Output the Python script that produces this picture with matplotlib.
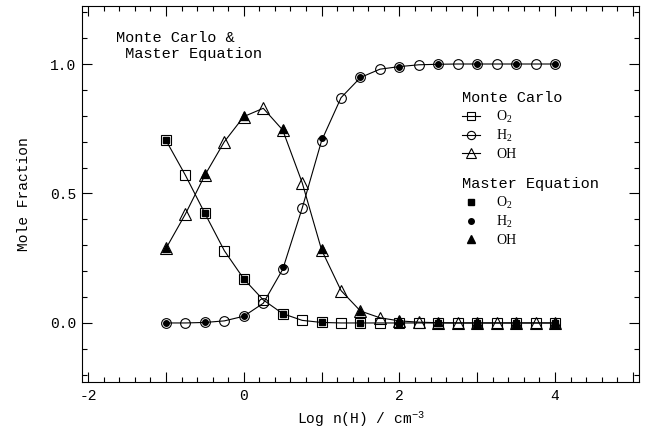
import matplotlib
matplotlib.use("Agg")
import matplotlib.pyplot as plt
from matplotlib.ticker import MultipleLocator, FuncFormatter

# ---- data ----
x_mc = [-1.0, -0.75, -0.5, -0.25, 0.0, 0.25, 0.5, 0.75, 1.0, 1.25, 1.5, 1.75,
        2.0, 2.25, 2.5, 2.75, 3.0, 3.25, 3.5, 3.75, 4.0]
o2_mc = [0.705, 0.570, 0.423, 0.279, 0.170, 0.089, 0.036, 0.010, 0.002, 0.0, 0.0, 0.0,
         0.0, 0.0, 0.0, 0.0, 0.0, 0.0, 0.0, 0.0, 0.0]
h2_mc = [0.0, 0.0, 0.002, 0.008, 0.026, 0.076, 0.207, 0.443, 0.704, 0.870, 0.948, 0.980,
         0.990, 0.997, 0.999, 1.0, 1.0, 1.0, 1.0, 1.0, 1.0]
oh_mc = [0.288, 0.421, 0.571, 0.700, 0.797, 0.829, 0.745, 0.542, 0.282, 0.125, 0.046, 0.020,
         0.008, 0.003, 0.001, 0.0, 0.0, 0.0, 0.0, 0.0, 0.0]

x_me = [-1.0, -0.5, 0.0, 0.5, 1.0, 1.5, 2.0, 2.5, 3.0, 3.5, 4.0]
o2_me = [0.705, 0.425, 0.170, 0.035, 0.002, 0.0, 0.0, 0.0, 0.0, 0.0, 0.0]
h2_me = [0.0, 0.002, 0.027, 0.215, 0.713, 0.948, 0.990, 0.999, 1.0, 1.0, 1.0]
oh_me = [0.290, 0.575, 0.800, 0.748, 0.285, 0.046, 0.010, 0.003, 0.0, 0.0, 0.0]

species = ["$\\mathregular{O_2}$", "$\\mathregular{H_2}$", "OH"]
xlabel = "Log n(H) / cm$^{-3}$"
ylabel = "Mole Fraction"
annot = "Monte Carlo &\n Master Equation"

mono = "Liberation Mono"
serif = "Liberation Serif"
plt.rcParams["font.family"] = mono
plt.rcParams["mathtext.fontset"] = "custom"
plt.rcParams["mathtext.rm"] = mono
plt.rcParams["mathtext.it"] = mono

fig = plt.figure(figsize=(6.53, 4.30), dpi=100)
ax = fig.add_axes([82/653, 1-382/430, (639-82)/653, (382-6)/430])

lw = 0.8
mc_handles = []
for y, m, ms in zip([o2_mc, h2_mc, oh_mc], ["s", "o", "^"], [7.2, 7.0, 8.0]):
    h, = ax.plot(x_mc, y, color="black", lw=lw, marker=m, ms=ms,
                 mfc="none", mec="black", mew=0.8, zorder=2)
    mc_handles.append(h)

me_handles = []
for y, m, ms in zip([o2_me, h2_me, oh_me], ["s", "o", "^"], [4.6, 4.0, 5.2]):
    h, = ax.plot(x_me, y, ls="none", marker=m, ms=ms, mfc="black",
                 mec="black", zorder=3)
    me_handles.append(h)

ax.set_xlim(-2.08, 5.08)
ax.set_ylim(-0.228, 1.224)

ax.xaxis.set_major_locator(MultipleLocator(1))
ax.xaxis.set_minor_locator(MultipleLocator(0.2))
ax.xaxis.set_major_formatter(FuncFormatter(
    lambda v, p: "%d" % round(v) if abs(v / 2 - round(v / 2)) < 1e-6 else ""))
ax.yaxis.set_major_locator(MultipleLocator(0.5))
ax.yaxis.set_minor_locator(MultipleLocator(0.1))
ax.yaxis.set_major_formatter(FuncFormatter(lambda v, p: "%.1f" % v))

ax.tick_params(which="both", direction="in", top=True, right=True, width=0.8,
               labelsize=10.5)
ax.tick_params(axis="x", pad=5)
ax.tick_params(axis="y", pad=4)
ax.tick_params(which="major", length=7)
ax.tick_params(which="minor", length=3.5)
for s in ax.spines.values():
    s.set_linewidth(0.8)

ax.set_xlabel(xlabel, fontsize=10.5, labelpad=5)
ax.set_ylabel(ylabel, fontsize=10.5, labelpad=14)

ax.text(116, 430 - 46, annot, transform=None, fontsize=11, ha="left",
        va="center", linespacing=1.1)

common = dict(loc="upper left", frameon=False, borderpad=0, borderaxespad=0,
              handlelength=1.3, handletextpad=1.2, labelspacing=0.25,
              prop={"family": serif, "size": 10},
              title_fontproperties={"family": mono, "size": 11},
              alignment="left")
leg1 = ax.legend(mc_handles, species, title="Monte Carlo",
                 bbox_to_anchor=((461.7 - 82) / 557, (382 - 91) / 376),
                 markerscale=0.85, **common)
ax.add_artist(leg1)
leg2 = ax.legend(me_handles, species, title="Master Equation",
                 bbox_to_anchor=((461.7 - 82) / 557, (382 - 177) / 376), **common)

fig.savefig("out.png", dpi=100)
